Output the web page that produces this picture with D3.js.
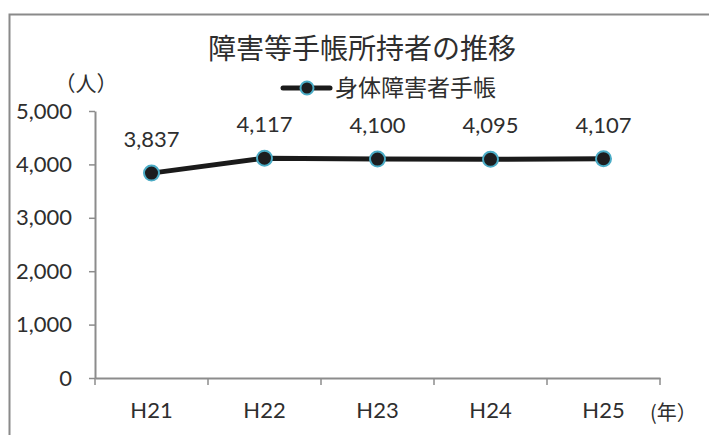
<!DOCTYPE html>
<html>
<head>
<meta charset="utf-8">
<script src="https://cdn.jsdelivr.net/npm/d3@7/dist/d3.min.js"></script>
<style>
  html, body { margin: 0; padding: 0; background: #fff; }
  svg { display: block; }
</style>
</head>
<body>
<svg id="chart" width="709" height="435"></svg>
<script>
// Holders of disability certificates (身体障害者手帳), by fiscal year
const years = ["H21", "H22", "H23", "H24", "H25"];
const holders = [3837, 4117, 4100, 4095, 4107];
const yTicks = [0, 1000, 2000, 3000, 4000, 5000];
const titleText = "障害等手帳所持者の推移";
const seriesName = "身体障害者手帳";
const yUnit = "（人）";
const xUnit = "(年）";

const svg = d3.select("#chart");
const numFont = "Lato, 'Noto Sans', sans-serif";
const jpFont = "'Noto Sans CJK JP', sans-serif";
const axisColor = "#8c8c8c";
const textColor = "#2e2e2e";
const numSize = 22;
const numWeight = 400;

// outer frame (top and left edges)
svg.append("path")
  .attr("d", "M9.5,436 L9.5,14.5 L710,14.5")
  .attr("fill", "none")
  .attr("stroke", "#8a8a8a")
  .attr("stroke-width", 2);

const plot = { left: 95, right: 660, top: 111, bottom: 378 };

const x = d3.scaleBand().domain(years).range([plot.left, plot.right]);
const y = d3.scaleLinear().domain([0, 5000]).range([plot.bottom, plot.top]);

// y axis
const yAxis = svg.append("g")
  .attr("transform", `translate(${plot.left},0)`)
  .call(d3.axisLeft(y).tickValues(yTicks).tickFormat(d3.format(",")).tickSize(6).tickSizeOuter(0).tickPadding(17));
yAxis.select(".domain").attr("stroke", axisColor).attr("stroke-width", 2);
yAxis.selectAll(".tick line").attr("stroke", axisColor).attr("stroke-width", 1.5);
yAxis.selectAll(".tick text")
  .attr("font-family", numFont).attr("font-size", numSize).attr("font-weight", numWeight).attr("fill", textColor);

// x axis
const xAxis = svg.append("g")
  .attr("transform", `translate(0,${plot.bottom})`)
  .call(d3.axisBottom(x).tickSize(0).tickPadding(24));
xAxis.select(".domain").attr("stroke", axisColor).attr("stroke-width", 2);
xAxis.selectAll(".tick text")
  .attr("font-family", numFont).attr("font-size", numSize).attr("font-weight", numWeight).attr("fill", textColor);
// category boundary ticks
const bounds = years.map(d => x(d)).concat([x(years[years.length - 1]) + x.bandwidth()]);
xAxis.selectAll(".bound").data(bounds).enter().append("line")
  .attr("class", "bound")
  .attr("x1", d => d).attr("x2", d => d)
  .attr("y1", 0).attr("y2", 7)
  .attr("stroke", axisColor).attr("stroke-width", 1.5);

const cx = d => x(d) + x.bandwidth() / 2;
const pts = years.map((d, i) => ({ year: d, value: holders[i] }));

// series line
svg.append("path")
  .datum(pts)
  .attr("fill", "none")
  .attr("stroke", "#1a1a1a")
  .attr("stroke-width", 5)
  .attr("d", d3.line().x(d => cx(d.year)).y(d => y(d.value)));

// markers
svg.selectAll(".pt").data(pts).enter().append("circle")
  .attr("class", "pt")
  .attr("cx", d => cx(d.year))
  .attr("cy", d => y(d.value))
  .attr("r", 7.5)
  .attr("fill", "#1d1d1f")
  .attr("stroke", "#4bacc6")
  .attr("stroke-width", 2);

// value labels
svg.selectAll(".val").data(pts).enter().append("text")
  .attr("class", "val")
  .attr("x", d => cx(d.year))
  .attr("y", d => y(d.value) - 26)
  .attr("text-anchor", "middle")
  .attr("font-family", numFont).attr("font-size", numSize).attr("font-weight", numWeight).attr("fill", textColor)
  .text(d => d3.format(",")(d.value));

// title
svg.append("text")
  .attr("x", 362).attr("y", 59)
  .attr("text-anchor", "middle")
  .attr("font-family", jpFont).attr("font-size", 28).attr("fill", textColor)
  .text(titleText);

// unit labels
svg.append("text")
  .attr("x", 86).attr("y", 91)
  .attr("text-anchor", "middle")
  .attr("font-family", jpFont).attr("font-size", 21).attr("fill", textColor)
  .text(yUnit);
svg.append("text")
  .attr("x", 650).attr("y", 420)
  .attr("font-family", jpFont).attr("font-size", 20).attr("fill", textColor)
  .text(xUnit);

// legend
const lg = svg.append("g").attr("transform", "translate(0,88)");
lg.append("line")
  .attr("x1", 283).attr("x2", 330).attr("y1", 0).attr("y2", 0)
  .attr("stroke", "#1a1a1a").attr("stroke-width", 5).attr("stroke-linecap", "round");
lg.append("circle")
  .attr("cx", 307).attr("cy", 0).attr("r", 6.5)
  .attr("fill", "#1d1d1f").attr("stroke", "#4bacc6").attr("stroke-width", 2);
lg.append("text")
  .attr("x", 335).attr("y", 8)
  .attr("font-family", jpFont).attr("font-size", 23).attr("fill", textColor)
  .text(seriesName);
</script>
</body>
</html>
